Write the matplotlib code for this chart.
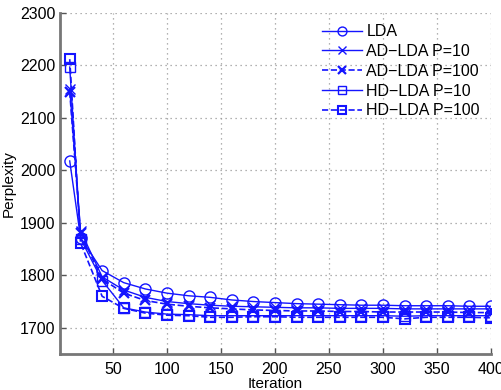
import matplotlib
matplotlib.use("Agg")
import matplotlib.pyplot as plt

plt.rcParams['font.family'] = ['Liberation Sans', 'DejaVu Sans']

iterations = [10, 20, 40, 60, 80, 100, 120, 140, 160, 180, 200, 220, 240, 260, 280, 300, 320, 340, 360, 380, 400]
lda = [2018, 1872, 1809, 1786, 1774, 1766, 1761, 1758, 1753, 1750, 1748, 1746, 1745, 1744, 1743, 1743, 1742, 1742, 1742, 1741, 1741]
ad_p10 = [2156, 1885, 1797, 1772, 1758, 1750, 1746, 1743, 1741, 1740, 1739, 1738, 1738, 1737, 1737, 1737, 1736, 1736, 1736, 1736, 1736]
ad_p100 = [2150, 1880, 1793, 1766, 1752, 1745, 1741, 1738, 1736, 1734, 1733, 1732, 1732, 1731, 1731, 1730, 1730, 1730, 1730, 1729, 1729]
hd_p10 = [2197, 1870, 1790, 1738, 1730, 1726, 1725, 1723, 1723, 1723, 1723, 1723, 1723, 1723, 1723, 1723, 1722, 1723, 1723, 1723, 1723]
hd_p100 = [2212, 1862, 1760, 1737, 1728, 1724, 1723, 1720, 1720, 1721, 1721, 1720, 1720, 1720, 1720, 1720, 1717, 1720, 1720, 1720, 1719]
labels = ['LDA', 'AD\u2212LDA P=10', 'AD\u2212LDA P=100', 'HD\u2212LDA P=10', 'HD\u2212LDA P=100']
xticks = [50, 100, 150, 200, 250, 300, 350, 400]
yticks = [1700, 1800, 1900, 2000, 2100, 2200, 2300]

fig = plt.figure(figsize=(5.02, 3.90), dpi=100)
ax = fig.add_axes([60/502, 1-354/390, (491-60)/502, (354-13)/390])

c = '#1414ff'
ax.plot(iterations, lda, '-', color=c, marker='o', mfc='none', ms=8, lw=1, label=labels[0])
ax.plot(iterations, ad_p10, '-', color=c, marker='x', ms=7, lw=1, label=labels[1])
ax.plot(iterations, ad_p100, '--', color=c, marker='x', ms=7, mew=1.6, lw=1.2, label=labels[2])
ax.plot(iterations, hd_p10, '-', color=c, marker='s', mfc='none', ms=7.5, lw=1, label=labels[3])
ax.plot(iterations, hd_p100, '--', color=c, marker='s', mfc='none', ms=7.5, mew=1.5, lw=1.2, label=labels[4])

ax.set_xlim(1, 400)
ax.set_ylim(1650, 2300)
ax.set_xticks(xticks)
ax.set_yticks(yticks)
ax.tick_params(direction='in', length=4, labelsize=11.5, colors='#555555', labelcolor='black', width=1)
ax.tick_params(axis='x', pad=6)
ax.grid(True, linestyle=(0, (1, 3)), color='#999999', linewidth=0.9)
for s in ['top', 'right']:
    ax.spines[s].set_visible(False)
for s in ['left', 'bottom']:
    ax.spines[s].set_color('#777777')
    ax.spines[s].set_linewidth(2)
ax.set_xlabel('Iteration', fontsize=11, labelpad=0)
ax.set_ylabel('Perplexity', fontsize=11, va='center')
ax.yaxis.set_label_coords(-51/431, 0.5)

leg = ax.legend(loc='upper right', bbox_to_anchor=(1.0, 1.0), frameon=False, fontsize=11.5,
                handlelength=2.5, labelspacing=0.3, handletextpad=0.25, borderaxespad=0.3,
                markerscale=0.8)
fig.savefig('out.png', dpi=100)
